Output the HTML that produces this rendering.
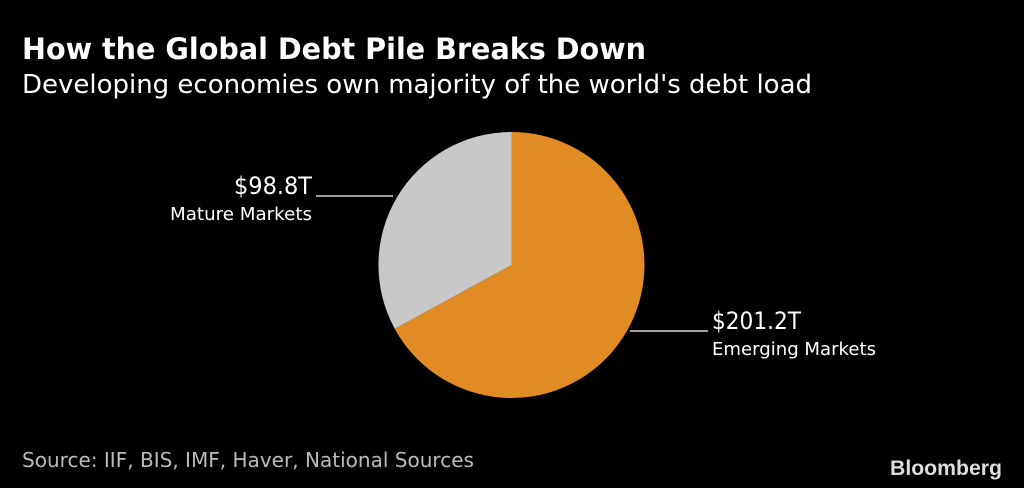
<!DOCTYPE html>
<html><head><meta charset="utf-8"><style>
html,body{margin:0;padding:0;background:#000;}
svg{display:block;}
</style></head><body>
<svg width="1024" height="488" viewBox="0 0 1024 488" xmlns="http://www.w3.org/2000/svg" font-family="DejaVu Sans, Liberation Sans, sans-serif">
<rect width="1024" height="488" fill="#000"/>
<text x="22" y="59" font-size="29" font-weight="bold" fill="#fff" textLength="624" lengthAdjust="spacingAndGlyphs">How the Global Debt Pile Breaks Down</text>
<text x="22" y="93" font-size="26" fill="#fff" textLength="790" lengthAdjust="spacingAndGlyphs">Developing economies own majority of the world's debt load</text>
<path d="M511.5,265 L511.5,132 A133,133 0 1,1 394.7,328.7 Z" fill="#e08b24"/>
<path d="M511.5,265 L394.7,328.7 A133,133 0 0,1 511.5,132 Z" fill="#c8c8c8"/>
<line x1="630" y1="331" x2="708" y2="331" stroke="#fff" stroke-width="1.2"/>
<text x="712" y="329" font-size="24" fill="#fff" textLength="89" lengthAdjust="spacingAndGlyphs">$201.2T</text>
<text x="712" y="355" font-size="18" fill="#fff" textLength="164" lengthAdjust="spacingAndGlyphs">Emerging Markets</text>
<line x1="316" y1="196" x2="393" y2="196" stroke="#fff" stroke-width="1.2"/>
<text x="234" y="194" font-size="24" fill="#fff" textLength="78" lengthAdjust="spacingAndGlyphs">$98.8T</text>
<text x="170" y="220" font-size="18" fill="#fff" textLength="142" lengthAdjust="spacingAndGlyphs">Mature Markets</text>
<text x="22" y="467" font-size="20" fill="#bbb" textLength="452" lengthAdjust="spacingAndGlyphs">Source: IIF, BIS, IMF, Haver, National Sources</text>
<text x="890" y="475" font-size="21" font-weight="bold" fill="#ddd" font-family="Liberation Sans, sans-serif" textLength="112" lengthAdjust="spacingAndGlyphs">Bloomberg</text>
</svg>
</body></html>
